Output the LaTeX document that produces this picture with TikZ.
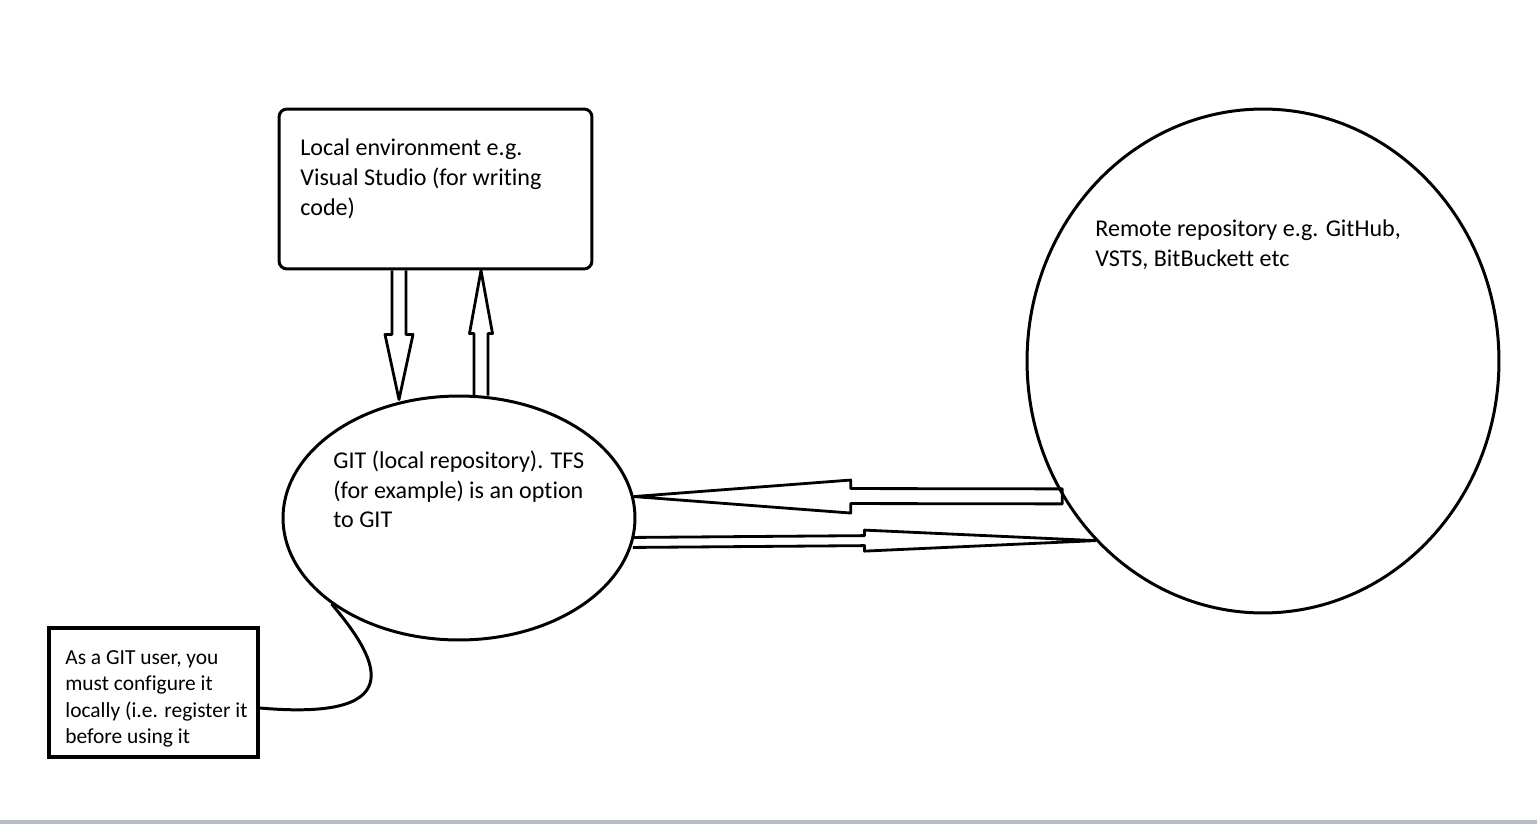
\documentclass[tikz,border=0pt]{standalone}
\usepackage{fontspec}
\setmainfont{Carlito}[Ligatures=NoCommon]
\usetikzlibrary{shapes.geometric}
\definecolor{statusbar}{RGB}{180,188,200}
\begin{document}
\begin{tikzpicture}[x=0.02cm,y=-0.02cm]
	\tikzstyle{box}=[draw=black,line width=1.7pt,rounded corners=0.16cm,minimum width=6.26cm,minimum height=3.2cm]
	\tikzstyle{note}=[draw=black,line width=2.2pt,minimum width=4.18cm,minimum height=2.58cm]
	\tikzstyle{repo}=[ellipse,draw=black,line width=1.7pt,inner sep=0pt]
	\tikzstyle{txt}=[anchor=north west,align=left,inner sep=0pt,font=\fontsize{13.7}{17.1}\selectfont]
	\tikzstyle{smalltxt}=[txt,font=\fontsize{12.2}{15.1}\selectfont]
	\tikzstyle{blockarrow}=[draw=black,line width=1.6pt,line join=round]
	\tikzstyle{link}=[draw=black,line width=1.7pt]

	\useasboundingbox (0,0) rectangle (1537,824);
	\fill[statusbar] (0,820) rectangle (1537,824);

	\node [box] (ide) at (435.5,189) {};
	\node [repo,minimum width=7.04cm,minimum height=4.88cm] (git) at (459,518) {};
	\node [repo,minimum width=9.44cm,minimum height=10.08cm] (remote) at (1263,361) {};
	\node [note] (user) at (153.5,692.5) {};

	\node [txt] (idetext) at (300,138) {Local environment e.g.\\Visual Studio (for writing\\code)};
	\node [txt,font=\fontsize{13.7}{16.8}\selectfont] (gittext) at (333,451) {GIT (local repository). TFS\\(for example) is an option\\to GIT};
	\node [txt] (remotetext) at (1095,219) {Remote repository e.g. GitHub,\\VSTS, BitBuckett etc};
	\node [smalltxt] (usertext) at (65,650) {As a GIT user, you\\must configure it\\locally (i.e. register it\\before using it};

	% ends of the block arrows
	\coordinate (d1) at ([shift={(-36.5,0)}]ide.south);
	\path (d1 |- git.north) ++(0,5) coordinate (d2);
	\coordinate (u2) at ([shift={(45.5,0)}]ide.south);
	\path (u2 |- git.north) ++(0,1) coordinate (u1);
	\coordinate (l1) at (remote.214.2);
	\coordinate (l2) at (git.7.2);
	\coordinate (r1) at (git.352.2);
	\coordinate (r2) at (remote.227.6);

	\path[blockarrow] ([shift={(-7,0)}]d1) -- ([shift={(-7,-65)}]d2) -- ([shift={(-14,-65)}]d2) -- (d2)
		-- ([shift={(14,-65)}]d2) -- ([shift={(7,-65)}]d2) -- ([shift={(7,0)}]d1);
	\path[blockarrow] ([shift={(-7,0)}]u1) -- ([shift={(-7,63)}]u2) -- ([shift={(-11.5,63)}]u2) -- (u2)
		-- ([shift={(11.5,63)}]u2) -- ([shift={(7,63)}]u2) -- ([shift={(7,0)}]u1);
	\path[blockarrow] (l2) -- ([shift={(217,-16.5)}]l2) -- ([shift={(217,-8)}]l2) -- ([shift={(0,-7.5)}]l1)
		-- ([shift={(0,7.5)}]l1) -- ([shift={(217,7)}]l2) -- ([shift={(217,16.5)}]l2) -- cycle;
	\path[blockarrow] ([shift={(0,-5)}]r1) -- ([shift={(-231,-5)}]r2) -- ([shift={(-231,-10.5)}]r2) -- (r2)
		-- ([shift={(-231,10.5)}]r2) -- ([shift={(-231,5)}]r2) -- ([shift={(0,5)}]r1);

	\path[link] ([shift={(0,15.5)}]user.east) .. controls (420,722) and (372,652) .. (git.214);
\end{tikzpicture}
\end{document}
